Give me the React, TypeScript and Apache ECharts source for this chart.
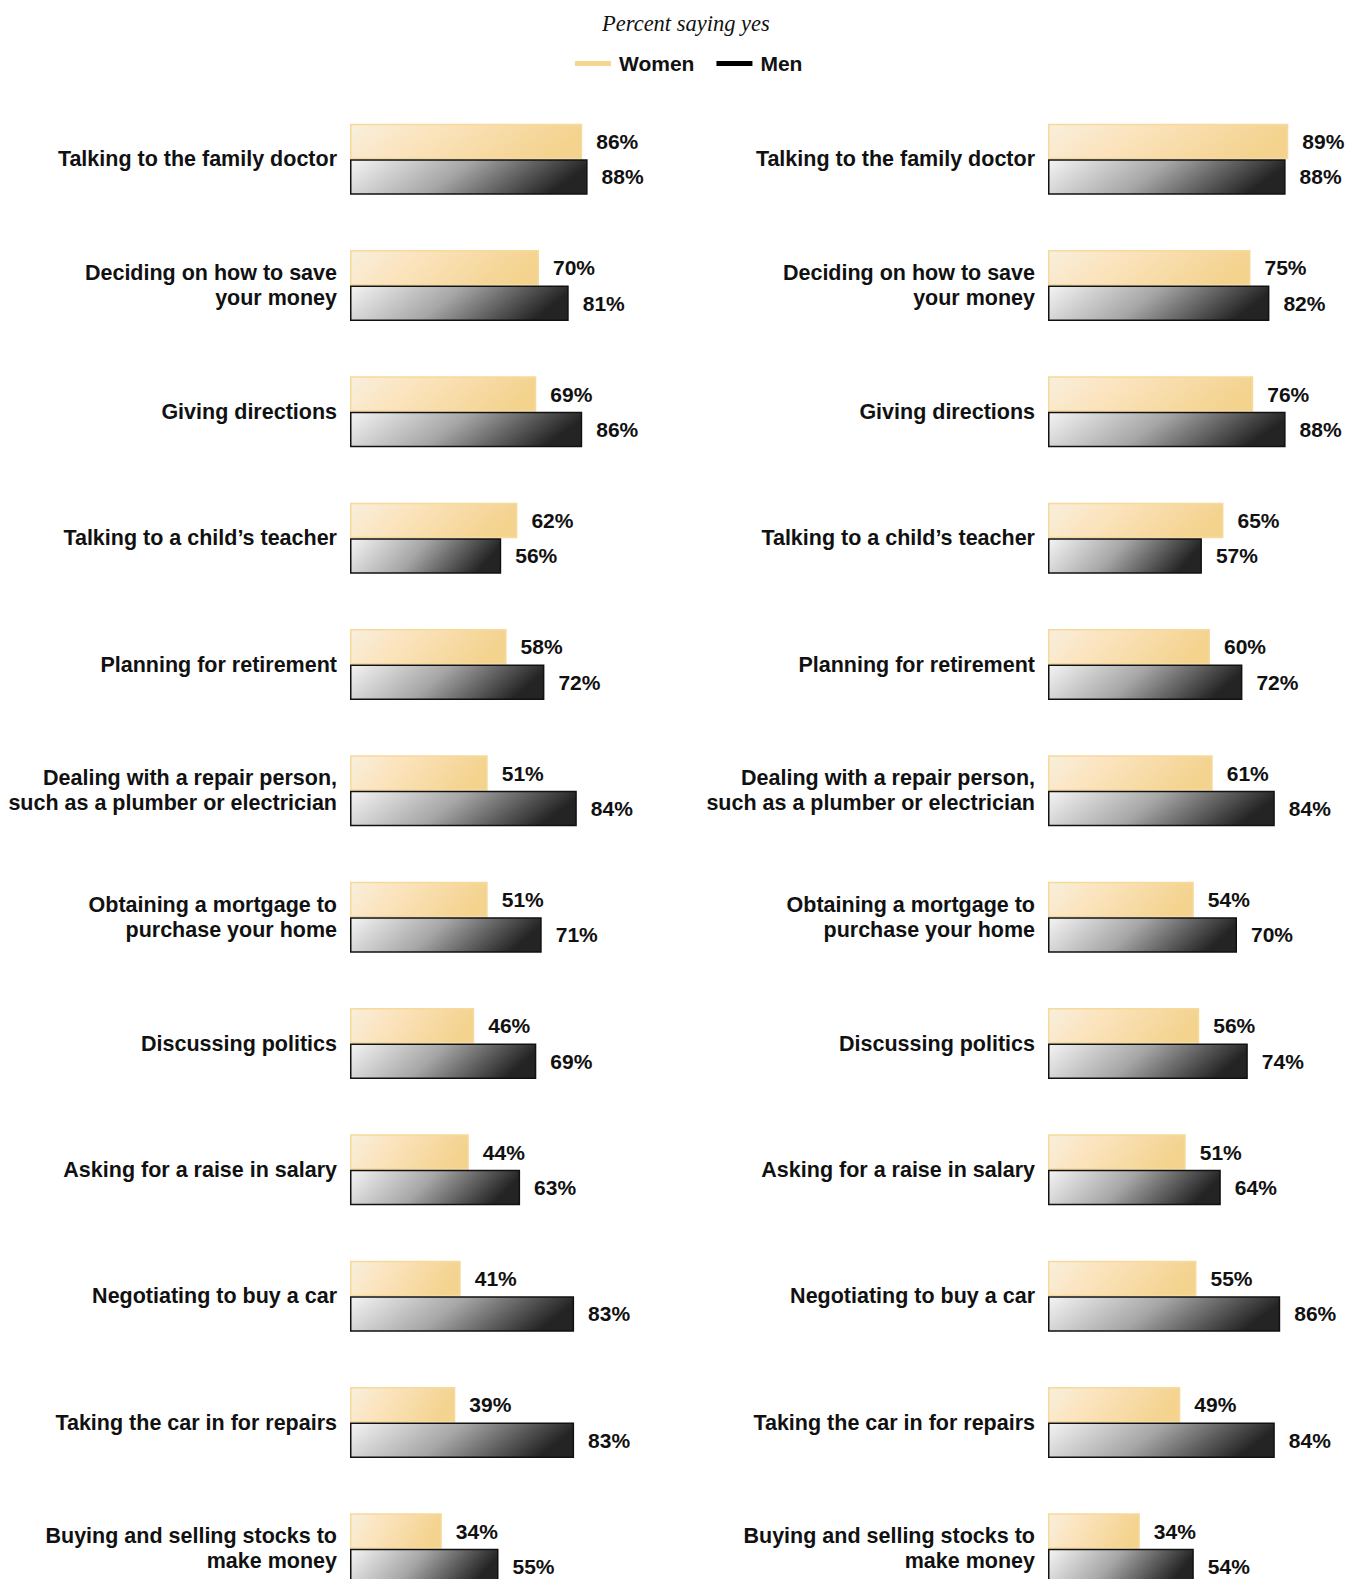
import React, { useEffect, useRef } from "react";
import * as echarts from "echarts";

const categories = [
  "Talking to the family doctor",
  "Deciding on how to save\nyour money",
  "Giving directions",
  "Talking to a child’s teacher",
  "Planning for retirement",
  "Dealing with a repair person,\nsuch as a plumber or electrician",
  "Obtaining a mortgage to\npurchase your home",
  "Discussing politics",
  "Asking for a raise in salary",
  "Negotiating to buy a car",
  "Taking the car in for repairs",
  "Buying and selling stocks to\nmake money",
];

const leftWomen = [86, 70, 69, 62, 58, 51, 51, 46, 44, 41, 39, 34];
const leftMen = [88, 81, 86, 56, 72, 84, 71, 69, 63, 83, 83, 55];
const rightWomen = [89, 75, 76, 65, 60, 61, 54, 56, 51, 55, 49, 34];
const rightMen = [88, 82, 88, 57, 72, 84, 70, 74, 64, 86, 84, 54];

const FONT = "'Liberation Sans', Arial, sans-serif";

export default function App() {
  const ref = useRef<HTMLDivElement>(null);

  useEffect(() => {
    document.body.style.margin = "0";
    document.documentElement.style.overflow = "hidden";
    document.body.style.overflow = "hidden";
    if (!ref.current) return;
    const chart = echarts.init(ref.current, undefined, { renderer: "svg" });

    const womenColor = new echarts.graphic.LinearGradient(0, 0, 1, 0.2, [
      { offset: 0, color: "#f8efdd" },
      { offset: 0.35, color: "#fbe4bf" },
      { offset: 1, color: "#f4d38f" },
    ]);
    const menColor = new echarts.graphic.LinearGradient(0, 0, 1, 0.2, [
      { offset: 0, color: "#f4f4f4" },
      { offset: 0.5, color: "#a6a6a6" },
      { offset: 1, color: "#242424" },
    ]);

    const gridTop = 96;
    const gridHeight = 1516;
    const grids = [
      { left: 350, width: 270, top: gridTop, height: gridHeight, outerBoundsMode: "none", containLabel: false },
      { left: 1048, width: 270, top: gridTop, height: gridHeight, outerBoundsMode: "none", containLabel: false },
    ];

    const mkX = (i: number) => ({
      type: "value",
      gridIndex: i,
      min: 0,
      max: 100,
      show: false,
    });
    const mkY = (i: number) => ({
      type: "category",
      gridIndex: i,
      data: categories,
      inverse: true,
      axisLine: { show: false },
      axisTick: { show: false },
      splitLine: { show: false },
      axisLabel: {
        margin: 13,
        fontFamily: FONT,
        fontWeight: "bold",
        fontSize: 21.5,
        color: "#111",
        lineHeight: 25,
        align: "right",
      },
    });

    const label = {
      show: true,
      position: "right",
      distance: 14,
      formatter: "{c}%",
      fontFamily: FONT,
      fontWeight: "bold",
      fontSize: 21,
      color: "#111",
    };

    const mkSeries = (name: string, data: number[], idx: number, isWomen: boolean) => ({
      name,
      type: "bar",
      xAxisIndex: idx,
      yAxisIndex: idx,
      data,
      barWidth: 35.5,
      barGap: "0%",
      label,
      itemStyle: isWomen
        ? { color: womenColor, borderColor: "#f6d99b", borderWidth: 1.5 }
        : { color: menColor, borderColor: "#111", borderWidth: 1.5 },
    });

    chart.setOption({
      animation: false,
      backgroundColor: "#ffffff",
      title: {
        text: "Percent saying yes",
        left: 597,
        top: 7,
        textStyle: {
          fontFamily: "'Liberation Serif', 'Times New Roman', serif",
          fontStyle: "italic",
          fontWeight: "normal",
          fontSize: 22.5,
          color: "#111",
        },
      },
      legend: {
        left: 570,
        top: 48,
        itemWidth: 36,
        itemHeight: 5,
        itemGap: 22,
        icon: "rect",
        data: [
          { name: "Women", itemStyle: { color: "#f7d68e", borderWidth: 0 } },
          { name: "Men", itemStyle: { color: "#000000", borderWidth: 0 } },
        ],
        textStyle: {
          fontFamily: FONT,
          fontWeight: "bold",
          fontSize: 21,
          color: "#111",
          padding: [0, 0, 0, 3],
        },
      },
      grid: grids,
      xAxis: [mkX(0), mkX(1)],
      yAxis: [mkY(0), mkY(1)],
      series: [
        mkSeries("Women", leftWomen, 0, true),
        mkSeries("Men", leftMen, 0, false),
        mkSeries("Women", rightWomen, 1, true),
        mkSeries("Men", rightMen, 1, false),
      ],
    });

    return () => chart.dispose();
  }, []);

  return (
    <div
      ref={ref}
      style={{ position: "fixed", left: 0, top: 0, width: 1346, height: 1579 }}
    />
  );
}
